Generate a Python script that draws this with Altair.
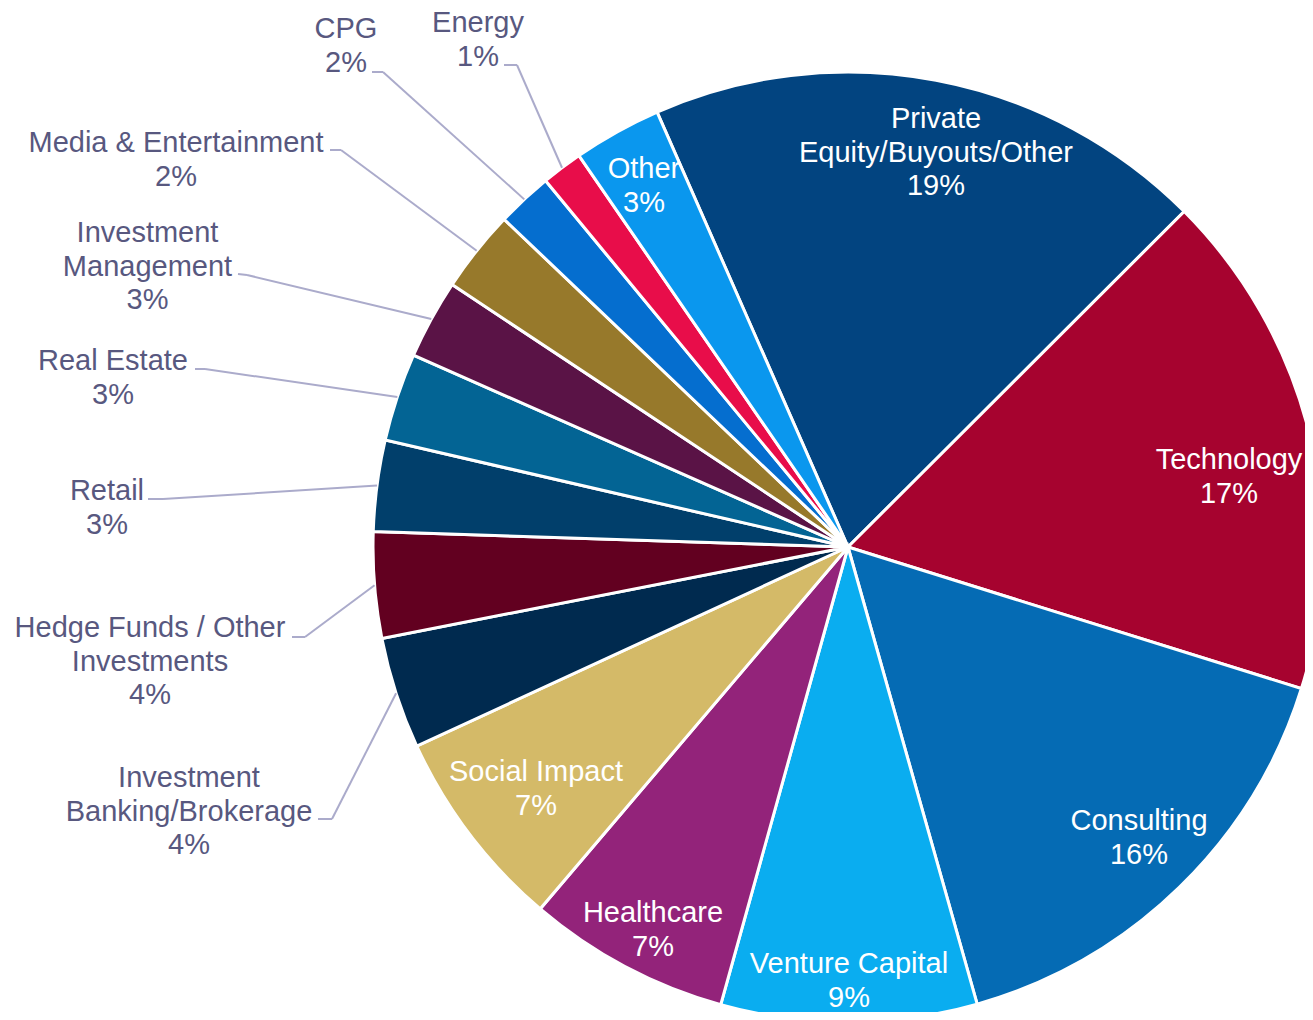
import math
import altair as alt
import pandas as pd

# ---------------- data ----------------
categories = [
    "Private Equity/Buyouts/Other", "Technology", "Consulting", "Venture Capital",
    "Healthcare", "Social Impact", "Investment Banking/Brokerage",
    "Hedge Funds / Other Investments", "Retail", "Real Estate",
    "Investment Management", "Media & Entertainment", "CPG", "Energy", "Other",
]
values = [19.1, 17.3, 15.8, 8.7, 6.9, 6.9, 3.8, 3.6, 3.1, 3.0, 2.7, 2.8, 1.9, 1.4, 3.0]
pct_labels = ["19%", "17%", "16%", "9%", "7%", "7%", "4%", "4%", "3%", "3%", "3%", "2%", "2%", "1%", "3%"]
label_lines = [
    ["Private", "Equity/Buyouts/Other"], ["Technology"], ["Consulting"], ["Venture Capital"],
    ["Healthcare"], ["Social Impact"], ["Investment", "Banking/Brokerage"],
    ["Hedge Funds / Other", "Investments"], ["Retail"], ["Real Estate"],
    ["Investment", "Management"], ["Media & Entertainment"], ["CPG"], ["Energy"], ["Other"],
]
colors = [
    "#024480", "#A6032F", "#056BB4", "#0AADF0", "#93237A", "#D4BA68", "#002A4F",
    "#620020", "#013F6B", "#036494", "#5A1346", "#97792B", "#056ECF", "#E80D4A", "#0A97EE",
]

# ---------------- layout (page pixels) ----------------
MARGIN = 8
W, H = 1297, 1004
CX, CY, R = 848 - MARGIN, 547 - MARGIN, 475
START = math.radians(-23.7)
FS = 29
LH = 33.5
TEXT_OUT = "#58587F"
LEADER = "#ABABCB"

# label block centre x, first-line baseline y, inside?
label_pos = {
    "Private Equity/Buyouts/Other": (936, 128, True),
    "Technology": (1229, 469, True),
    "Consulting": (1139, 830, True),
    "Venture Capital": (849, 973, True),
    "Healthcare": (653, 922, True),
    "Social Impact": (536, 781, True),
    "Other": (644, 178, True),
    "Energy": (478, 32, False),
    "CPG": (346, 38, False),
    "Media & Entertainment": (176, 152, False),
    "Investment Management": (147.5, 242, False),
    "Real Estate": (113, 370, False),
    "Retail": (107, 500, False),
    "Hedge Funds / Other Investments": (150, 637, False),
    "Investment Banking/Brokerage": (189, 787, False),
}
# elbow x, elbow y, end x, end y
leader_pos = {
    "Energy": (517, 65, 504, 65),
    "CPG": (383, 72, 372, 72),
    "Media & Entertainment": (341, 150, 330, 150),
    "Investment Management": (247, 275, 238, 274),
    "Real Estate": (205, 369, 195, 369),
    "Retail": (163, 499, 148, 499),
    "Hedge Funds / Other Investments": (305, 637, 292, 637),
    "Investment Banking/Brokerage": (332, 819, 318, 819),
}

df = pd.DataFrame({"category": categories, "value": values, "order": list(range(len(categories)))})

lab_rows = []
for c, lines, p in zip(categories, label_lines, pct_labels):
    x, yb, inside = label_pos[c]
    lab_rows.append({
        "category": c,
        "text": lines + [p],
        "tx": x - MARGIN,
        "ty": yb - MARGIN - 0.3 * FS,
        "inside": inside,
    })
lab_df = pd.DataFrame(lab_rows)

leader_rows = [
    {"category": c, "ex": v[0] - MARGIN, "ey": v[1] - MARGIN, "lx": v[2] - MARGIN, "ly": v[3] - MARGIN}
    for c, v in leader_pos.items()
]

# ---------------- chart ----------------
arc = alt.Chart(df).mark_arc(radius=R, stroke="white", strokeWidth=3).encode(
    theta=alt.Theta("value:Q", stack=True, scale=alt.Scale(range=[START, START + 2 * math.pi])),
    order=alt.Order("order:Q"),
    color=alt.Color("category:N", scale=alt.Scale(domain=categories, range=colors), legend=None),
    x=alt.value(CX),
    y=alt.value(CY),
)

base_leader = alt.Chart(df).transform_window(
    cum="sum(value)", sort=[alt.SortField("order")], frame=[None, 0]
).transform_joinaggregate(
    total="sum(value)"
).transform_calculate(
    mid=f"{START} + 2*PI*(datum.cum - datum.value/2)/datum.total"
).transform_calculate(
    x0=f"{CX} + {R}*sin(datum.mid)",
    y0=f"{CY} - {R}*cos(datum.mid)",
).transform_lookup(
    lookup="category",
    from_=alt.LookupData(data=alt.InlineData(values=leader_rows), key="category",
                         fields=["ex", "ey", "lx", "ly"]),
).transform_filter("isValid(datum.ex)")

rule1 = base_leader.mark_rule(color=LEADER, strokeWidth=2).encode(
    x=alt.X("x0:Q", scale=None, axis=None),
    y=alt.Y("y0:Q", scale=None, axis=None),
    x2="ex:Q",
    y2="ey:Q",
)
rule2 = base_leader.mark_rule(color=LEADER, strokeWidth=2).encode(
    x=alt.X("ex:Q", scale=None, axis=None),
    y=alt.Y("ey:Q", scale=None, axis=None),
    x2="lx:Q",
    y2="ly:Q",
)

def text_layer(inside, color):
    return alt.Chart(lab_df[lab_df["inside"] == inside]).mark_text(
        font="Liberation Sans", fontSize=FS, lineHeight=LH, align="center",
        baseline="middle", color=color,
    ).encode(
        x=alt.X("tx:Q", scale=None, axis=None),
        y=alt.Y("ty:Q", scale=None, axis=None),
        text="text:N",
    )

chart = alt.layer(
    arc, rule1, rule2, text_layer(True, "white"), text_layer(False, TEXT_OUT)
).properties(
    width=W, height=H, padding=0, autosize=alt.AutoSizeParams(type="none"),
    background="white",
).configure_view(stroke=None)

chart.save("out.html", embed_options={"renderer": "svg", "actions": False})
